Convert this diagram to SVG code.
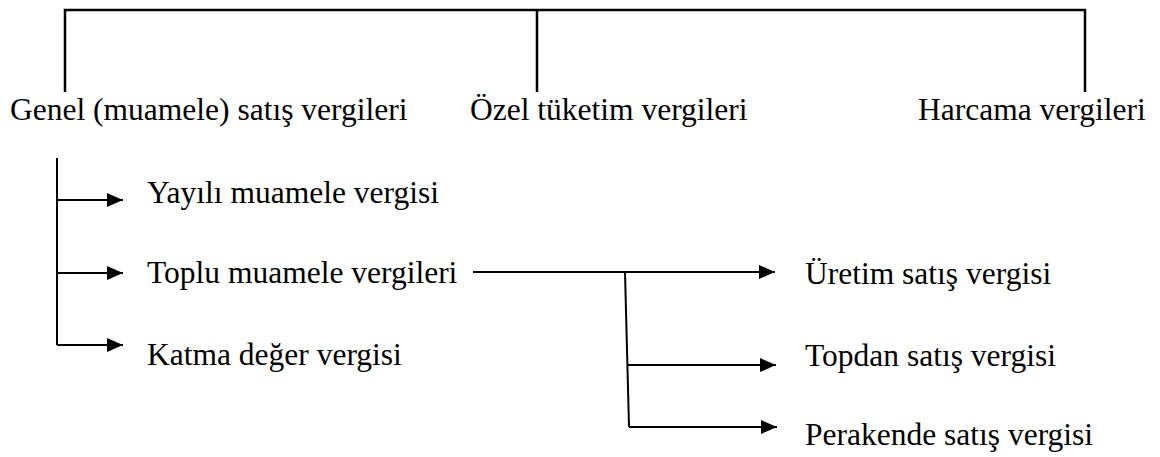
<svg xmlns="http://www.w3.org/2000/svg" width="1160" height="457" viewBox="0 0 1160 457">
<style>
text{font-family:'Liberation Serif','Times New Roman',Times,serif;font-size:31.5px;fill:#000;font-weight:400}
.ln{stroke:#000;stroke-width:2;fill:none}
.br{stroke:#000;stroke-width:2.5;fill:none}
</style>
<defs>
<marker id="ah" markerUnits="userSpaceOnUse" markerWidth="17" markerHeight="14" refX="16" refY="7" orient="auto">
<path d="M0,0 L16,7 L0,14 Z" fill="#000"/>
</marker>
</defs>
<rect width="1160" height="457" fill="#fff"/>
<g id="connectors">
<path class="br" d="M65,92 V10 H1085 V92 M537,10 V92"/>
<path class="ln" d="M57,158 V345"/>
<line class="ln" x1="57" y1="200" x2="123" y2="200" marker-end="url(#ah)"/>
<line class="ln" x1="57" y1="273" x2="123" y2="273" marker-end="url(#ah)"/>
<line class="ln" x1="57" y1="345" x2="123" y2="345" marker-end="url(#ah)"/>
<line class="ln" x1="473" y1="272" x2="775" y2="272" marker-end="url(#ah)"/>
<path class="ln" d="M625,272 L629,427"/>
<line class="ln" x1="628" y1="365" x2="776" y2="365" marker-end="url(#ah)"/>
<line class="ln" x1="629" y1="427" x2="777" y2="427" marker-end="url(#ah)"/>
</g>
<g id="genel"><text x="10" y="120" font-family="Liberation Serif">Genel (muamele) satış vergileri</text></g>
<g id="ozel"><text x="470" y="120">Özel tüketim vergileri</text></g>
<g id="harcama"><text x="918" y="120">Harcama vergileri</text></g>
<g id="yayili"><text x="147" y="203">Yayılı muamele vergisi</text></g>
<g id="toplu"><text x="147" y="283">Toplu muamele vergileri</text></g>
<g id="katma"><text x="147" y="365">Katma değer vergisi</text></g>
<g id="uretim"><text x="805" y="284">Üretim satış vergisi</text></g>
<g id="topdan"><text x="805" y="366">Topdan satış vergisi</text></g>
<g id="perakende"><text x="805" y="445">Perakende satış vergisi</text></g>
</svg>
